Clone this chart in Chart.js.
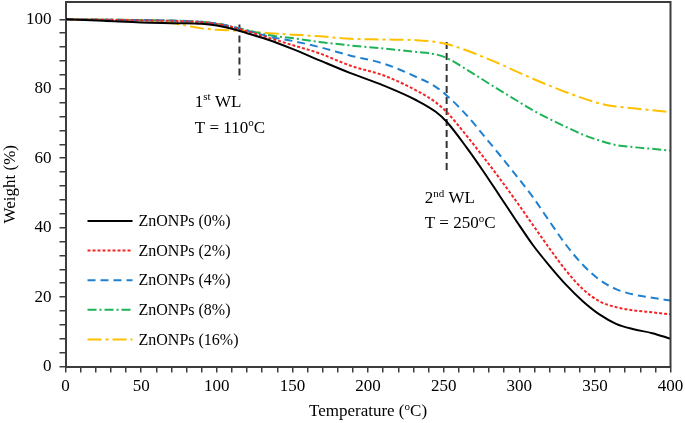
<!DOCTYPE html>
<html>
<head>
<meta charset="utf-8">
<script src="https://cdn.jsdelivr.net/npm/chart.js@4.4.1/dist/chart.umd.min.js"></script>
<style>
    html, body { margin: 0; padding: 0; background: #fff; }
    #wrap { width: 685px; height: 423px; }
</style>
</head>
<body>
<div id="wrap"><canvas id="tga"></canvas></div>
<script>
// Temperature points (°C) shared by all curves
const temperature = [0, 25, 50, 75, 90, 100, 110, 120, 135, 150, 168, 188, 210, 232, 245, 252, 265, 276, 287, 298, 309, 320, 331, 342, 353, 364, 375, 388, 400];

// Weight (%) for each ZnONPs loading
const weight0  = [100, 99.6, 99.1, 98.9, 98.7, 98.2, 97.3, 96.0, 94.0, 91.5, 88.2, 84.6, 81.0, 76.7, 73.3, 70.5, 63.2, 56.4, 49.2, 42.0, 35.0, 29.0, 23.5, 18.8, 15.0, 12.3, 10.8, 9.6, 8.0];
const weight2  = [100, 99.9, 99.7, 99.5, 99.2, 98.7, 97.8, 96.6, 94.6, 92.6, 90.2, 86.7, 83.9, 79.5, 76.0, 73.3, 66.6, 60.5, 54.2, 47.6, 40.8, 34.0, 27.6, 22.3, 18.8, 17.1, 16.2, 15.6, 15.0];
const weight4  = [100, 99.9, 99.8, 99.6, 99.3, 98.8, 97.9, 96.8, 95.0, 93.8, 92.0, 89.6, 87.3, 83.4, 80.5, 78.1, 72.5, 66.8, 61.0, 55.0, 48.8, 41.8, 35.0, 29.3, 25.0, 22.3, 20.8, 19.8, 19.0];
const weight8  = [100, 99.9, 99.8, 99.6, 99.3, 98.8, 97.9, 96.9, 95.4, 94.6, 93.5, 92.5, 91.6, 90.6, 89.9, 88.9, 85.6, 82.6, 79.6, 76.7, 73.8, 71.3, 69.0, 66.8, 65.1, 63.8, 63.2, 62.7, 62.2];
const weight16 = [100, 99.9, 99.8, 98.6, 97.4, 97.0, 96.8, 96.6, 96.0, 95.6, 95.1, 94.4, 94.2, 94.0, 93.5, 92.9, 91.1, 89.2, 87.2, 85.0, 82.9, 80.9, 79.0, 77.3, 75.8, 74.9, 74.4, 73.8, 73.3];

const seriesLabels = ['ZnONPs (0%)', 'ZnONPs (2%)', 'ZnONPs (4%)', 'ZnONPs (8%)', 'ZnONPs (16%)'];

// Tick labels
const xTickLabels = [0, 50, 100, 150, 200, 250, 300, 350, 400];
const yTickLabels = [0, 20, 40, 60, 80, 100];

// Weight-loss markers: temperature, top and bottom of the dashed line
const wlTemps  = [115, 252];
const wlTop    = [98.5, 93.5];
const wlBottom = [82.5, 55.5];
// Text of the markers, [text, superscript?]
const wlText = [
    [[['1', false], ['st', true], [' WL', false]], [['T = 110', false], ['o', true], ['C', false]]],
    [[['2', false], ['nd', true], [' WL', false]], [['T = 250', false], ['o', true], ['C', false]]]
];
// Where the text goes, in data units (left edge temperature, baseline weight of each line)
const wlTextT = [85.5, 237.5];
const wlTextW = [[74.8, 67.4], [47.1, 39.8]];

const FONT = '"Liberation Serif", "Times New Roman", serif';
const axisColor = '#3c3c3c';

const styles = [
    { color: '#000000', dash: [] },
    { color: '#F42424', dash: [3, 2] },
    { color: '#2080D0', dash: [8, 5] },
    { color: '#1DB356', dash: [9, 3, 2, 3] },
    { color: '#FFC000', dash: [14, 4, 3, 4] }
];

const weights = [weight0, weight2, weight4, weight8, weight16];

const datasets = weights.map((w, i) => ({
    label: seriesLabels[i],
    data: temperature.map((t, k) => ({ x: t, y: w[k] })),
    borderColor: styles[i].color,
    borderDash: styles[i].dash,
    borderWidth: 2,
    pointRadius: 0,
    fill: false,
    cubicInterpolationMode: 'monotone'
}));

// Dashed marker lines
wlTemps.forEach((t, i) => {
    datasets.push({
        label: 'WL' + (i + 1),
        data: [{ x: t, y: wlTop[i] }, { x: t, y: wlBottom[i] }],
        borderColor: '#333333',
        borderDash: [7, 4],
        borderWidth: 2,
        pointRadius: 0
    });
});

// Draws text with superscript parts, returns the width
function drawParts(ctx, parts, x, y, size, measureOnly) {
    let w = 0;
    parts.forEach(([txt, sup]) => {
        ctx.font = (sup ? size * 0.65 : size) + 'px ' + FONT;
        if (!measureOnly) ctx.fillText(txt, x + w, sup ? y - size * 0.38 : y);
        w += ctx.measureText(txt).width;
    });
    return w;
}

const extrasPlugin = {
    id: 'extras',
    afterDraw(chart) {
        const { ctx, chartArea: a, scales: { x, y } } = chart;
        ctx.save();

        // top and right border of the plot
        ctx.strokeStyle = axisColor;
        ctx.lineWidth = 2;
        ctx.setLineDash([]);
        ctx.beginPath();
        ctx.moveTo(a.left, a.top);
        ctx.lineTo(a.right, a.top);
        ctx.lineTo(a.right, a.bottom);
        ctx.stroke();

        // legend inside the plot
        ctx.textBaseline = 'middle';
        ctx.fillStyle = '#000';
        seriesLabels.forEach((lab, i) => {
            const ly = a.top + 219 + i * 29.6;
            ctx.strokeStyle = styles[i].color;
            ctx.lineWidth = 2;
            ctx.setLineDash(styles[i].dash);
            ctx.beginPath();
            ctx.moveTo(a.left + 22, ly);
            ctx.lineTo(a.left + 67, ly);
            ctx.stroke();
            ctx.font = '16px ' + FONT;
            ctx.fillText(lab, a.left + 73, ly + 1);
        });

        // marker texts
        ctx.textBaseline = 'alphabetic';
        wlText.forEach((lines, i) => {
            lines.forEach((parts, j) => {
                drawParts(ctx, parts, x.getPixelForValue(wlTextT[i]), y.getPixelForValue(wlTextW[i][j]), 17);
            });
        });

        // x axis title with superscript
        const xt = [['Temperature (', false], ['o', true], ['C)', false]];
        const tw = drawParts(ctx, xt, 0, 0, 17, true);
        drawParts(ctx, xt, (a.left + a.right) / 2 - tw / 2, 416, 17);

        ctx.restore();
    }
};

new Chart(document.getElementById('tga'), {
    type: 'line',
    data: { datasets: datasets },
    options: {
        responsive: true,
        maintainAspectRatio: false,
        animation: false,
        events: [],
        layout: { padding: { top: 2, right: 14.5, left: 0, bottom: 0 } },
        plugins: {
            legend: { display: false },
            tooltip: { enabled: false }
        },
        scales: {
            x: {
                type: 'linear',
                min: 0,
                max: 400,
                afterFit: s => {
                    s.height = 56.5;
                    s.paddingLeft = 0;
                    s.paddingRight = 0;
                },
                border: { color: axisColor, width: 2 },
                grid: { drawOnChartArea: false, color: axisColor, tickLength: 6, lineWidth: 1.5 },
                ticks: {
                    stepSize: 10,
                    autoSkip: false,
                    maxRotation: 0,
                    padding: 4,
                    color: '#000',
                    font: { family: FONT, size: 17 },
                    callback: v => xTickLabels.includes(v) ? String(v) : ''
                }
            },
            y: {
                min: 0,
                max: 105,
                afterFit: s => {
                    s.width = 65.5;
                    s.paddingTop = 0;
                    s.paddingBottom = 0;
                },
                afterBuildTicks: s => { s.ticks = s.ticks.filter(t => t.value <= 100); },
                border: { color: axisColor, width: 2 },
                grid: { drawOnChartArea: false, color: axisColor, tickLength: 6, lineWidth: 1.5 },
                title: {
                    display: true,
                    text: 'Weight (%)',
                    color: '#000',
                    font: { family: FONT, size: 17 },
                    padding: { top: 0, bottom: 0 }
                },
                ticks: {
                    stepSize: 4,
                    autoSkip: false,
                    padding: 8,
                    color: '#000',
                    font: { family: FONT, size: 17 },
                    callback: v => yTickLabels.includes(v) ? String(v) : ''
                }
            }
        }
    },
    plugins: [extrasPlugin]
});
</script>
</body>
</html>
